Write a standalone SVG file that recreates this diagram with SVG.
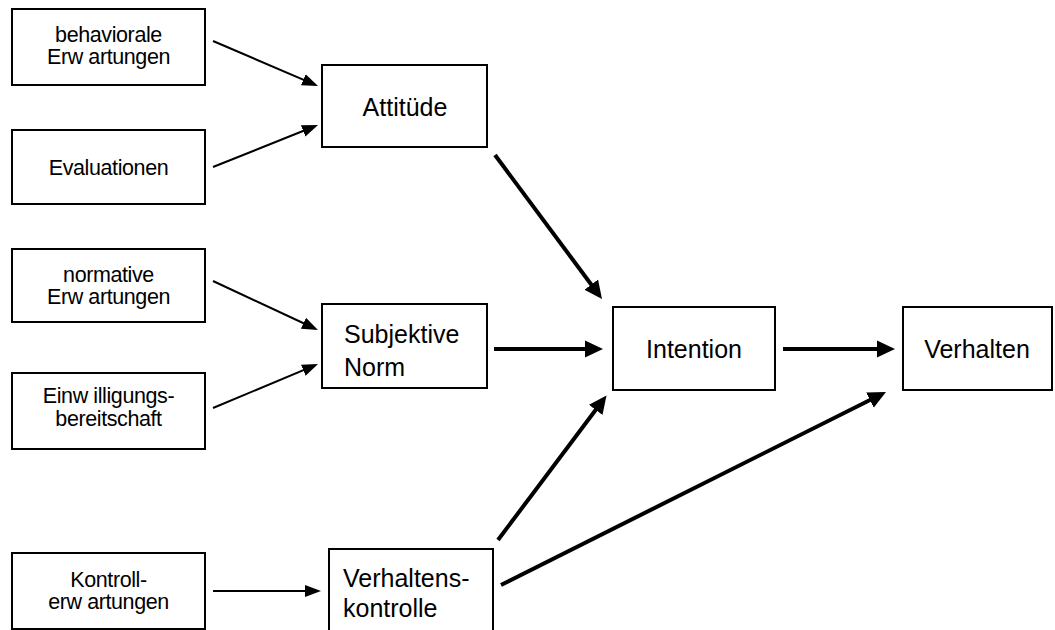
<svg xmlns="http://www.w3.org/2000/svg" width="1055" height="630" viewBox="0 0 1055 630">
  <style>
    .box { fill: #ffffff; stroke: #000000; stroke-width: 2; }
    .sm { font-family: "Liberation Sans", Arial, sans-serif; font-size: 21.5px; letter-spacing: -0.4px; fill: #000000; text-anchor: middle; }
    .lg { font-family: "Liberation Sans", Arial, sans-serif; font-size: 25px; fill: #000000; }
    .c { text-anchor: middle; }
    .thin { stroke: #000000; stroke-width: 2; fill: none; marker-end: url(#ah); }
    .thick { stroke: #000000; stroke-width: 4; fill: none; marker-end: url(#ahb); }
  </style>
  <defs>
    <marker id="ah" markerUnits="userSpaceOnUse" markerWidth="17" markerHeight="13" refX="12.5" refY="6.5" orient="auto">
      <path d="M0,0.5 L16,6.5 L0,12.5 z" fill="#000000"/>
    </marker>
    <marker id="ahb" markerUnits="userSpaceOnUse" markerWidth="19" markerHeight="18" refX="13" refY="9" orient="auto">
      <path d="M0,0.5 L18,9 L0,17.5 z" fill="#000000"/>
    </marker>
  </defs>
  <rect width="1055" height="630" fill="#ffffff"/>

  <g id="behaviorale">
    <rect class="box" x="12" y="9" width="193" height="76"/>
    <text class="sm" x="108.5" y="42">behaviorale</text>
    <text class="sm" x="108.5" y="64">Erw artungen</text>
  </g>
  <g id="evaluationen">
    <rect class="box" x="12" y="130" width="193" height="74"/>
    <text class="sm" x="108.5" y="175">Evaluationen</text>
  </g>
  <g id="normative">
    <rect class="box" x="12" y="249" width="193" height="73"/>
    <text class="sm" x="108.5" y="282">normative</text>
    <text class="sm" x="108.5" y="304">Erw artungen</text>
  </g>
  <g id="einwilligung">
    <rect class="box" x="12" y="373" width="193" height="76"/>
    <text class="sm" x="108.5" y="403">Einw illigungs-</text>
    <text class="sm" x="108.5" y="426">bereitschaft</text>
  </g>
  <g id="kontrollerwartungen">
    <rect class="box" x="12" y="553" width="193" height="76"/>
    <text class="sm" x="108.5" y="587">Kontroll-</text>
    <text class="sm" x="108.5" y="609">erw artungen</text>
  </g>
  <g id="attitude">
    <rect class="box" x="322" y="65" width="165" height="82"/>
    <text class="lg c" x="405" y="116">Attitüde</text>
  </g>
  <g id="subjektive-norm">
    <rect class="box" x="322" y="304" width="165" height="84"/>
    <text class="lg" x="344" y="343">Subjektive</text>
    <text class="lg" x="344" y="376">Norm</text>
  </g>
  <g id="verhaltenskontrolle">
    <rect class="box" x="329" y="549" width="164" height="95"/>
    <text class="lg" x="343" y="587">Verhaltens-</text>
    <text class="lg" x="343" y="617">kontrolle</text>
  </g>
  <g id="intention">
    <rect class="box" x="613" y="307" width="162" height="83"/>
    <text class="lg c" x="694" y="358">Intention</text>
  </g>
  <g id="verhalten">
    <rect class="box" x="903" y="307" width="149" height="83"/>
    <text class="lg c" x="977" y="358">Verhalten</text>
  </g>

  <g id="connectors">
    <line class="thin" x1="213" y1="41" x2="314.8" y2="84.6"/>
    <line class="thin" x1="213" y1="167" x2="314.8" y2="126.3"/>
    <line class="thin" x1="213" y1="281" x2="314.8" y2="328.5"/>
    <line class="thin" x1="213" y1="408" x2="314.8" y2="365.4"/>
    <line class="thin" x1="213" y1="591" x2="317.5" y2="591"/>
    <line class="thick" x1="495" y1="155" x2="599" y2="295"/>
    <line class="thick" x1="494" y1="349" x2="598" y2="349"/>
    <line class="thick" x1="783" y1="349" x2="890" y2="349"/>
    <line class="thick" x1="498" y1="540" x2="603.5" y2="399.5"/>
    <line class="thick" x1="501" y1="585" x2="881.5" y2="394.2"/>
  </g>
</svg>
